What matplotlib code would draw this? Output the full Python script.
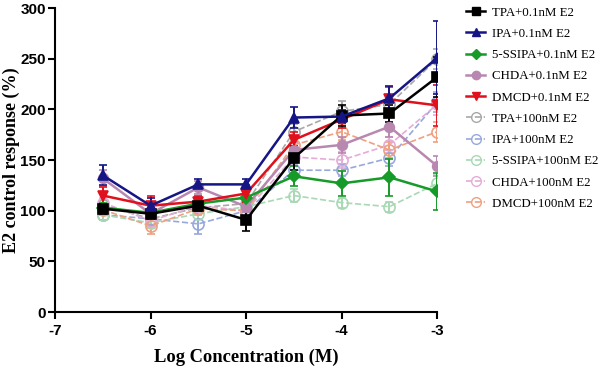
import matplotlib
matplotlib.use("Agg")
import matplotlib.pyplot as plt
from matplotlib.lines import Line2D

log_conc = [-6.5, -6.0, -5.5, -5.0, -4.5, -4.0, -3.5, -3.0]

labels = ["TPA+0.1nM E2", "IPA+0.1nM E2", "5-SSIPA+0.1nM E2", "CHDA+0.1nM E2",
          "DMCD+0.1nM E2", "TPA+100nM E2", "IPA+100nM E2", "5-SSIPA+100nM E2",
          "CHDA+100nM E2", "DMCD+100nM E2"]

tpa_01 = [102, 97, 105, 91, 152, 194, 196, 232]
ipa_01 = [135, 105, 126, 126, 192, 193, 211, 251]
sipa_01 = [103, 98, 107, 113, 134, 127, 133, 119]
chda_01 = [132, 97, 123, 104, 160, 165, 183, 144]
dmcd_01 = [115, 105, 109, 117, 170, 190, 210, 204]
tpa_100 = [106, 92, 103, 107, 178, 198, 205, 250]
ipa_100 = [96, 92, 87, 100, 140, 140, 152, 207]
sipa_100 = [96, 88, 97, 104, 115, 108, 104, 127]
chda_100 = [108, 90, 105, 100, 153, 150, 165, 205]
dmcd_100 = [101, 85, 102, 100, 165, 178, 160, 178]

tpa_01_err = [5, 5, 5, 11, 12, 10, 8, 20]
ipa_01_err = [10, 8, 5, 5, 10, 6, 12, 36]
sipa_01_err = [5, 5, 5, 5, 10, 12, 18, 18]
chda_01_err = [8, 5, 6, 5, 8, 8, 10, 10]
dmcd_01_err = [8, 10, 6, 8, 8, 8, 12, 20]
tpa_100_err = [5, 6, 5, 6, 8, 10, 8, 10]
ipa_100_err = [5, 6, 10, 6, 6, 6, 8, 10]
sipa_100_err = [5, 5, 5, 5, 6, 5, 5, 8]
chda_100_err = [5, 6, 5, 6, 8, 8, 8, 10]
dmcd_100_err = [5, 8, 6, 6, 8, 8, 8, 10]

series = [tpa_01, ipa_01, sipa_01, chda_01, dmcd_01,
          tpa_100, ipa_100, sipa_100, chda_100, dmcd_100]
errors = [tpa_01_err, ipa_01_err, sipa_01_err, chda_01_err, dmcd_01_err,
          tpa_100_err, ipa_100_err, sipa_100_err, chda_100_err, dmcd_100_err]

colors = ["#000000", "#151585", "#169a28", "#b888b0", "#e0101c",
          "#a8a8a8", "#98a8dc", "#a8d8b4", "#e4acd8", "#f0a080"]
markers = ["s", "^", "D", "o", "v", "o", "o", "o", "o", "o"]
msizes = [7, 7, 6, 7, 7, 8, 8, 8, 8, 8]

fig = plt.figure(figsize=(6.01, 3.71), dpi=100)
ax = fig.add_axes([0.0915, 0.159, 0.636, 0.819])

order = [5, 6, 7, 8, 9, 3, 2, 4, 0, 1]
for i in order:
    filled = i < 5
    ls = "-" if filled else "--"
    lw = 1.8 if filled else 1.2
    ax.errorbar(log_conc, series[i], yerr=errors[i], color=colors[i],
                marker=markers[i], markersize=msizes[i], linestyle=ls,
                linewidth=lw, capsize=3, elinewidth=1.4, capthick=1.4,
                markerfacecolor=colors[i] if filled else "none",
                markeredgecolor=colors[i], markeredgewidth=1.2,
                zorder=3 if filled else 2)

handles = []
for i in range(10):
    filled = i < 5
    handles.append(Line2D([], [], color=colors[i], marker=markers[i],
                          markersize=msizes[i] - 1 if filled else 7,
                          linestyle="-" if filled else "--",
                          linewidth=1.8 if filled else 1.2,
                          markerfacecolor=colors[i] if filled else "none",
                          markeredgecolor=colors[i]))

ax.set_xlim(-7, -3)
ax.set_ylim(0, 300)
ax.set_xticks([-7, -6, -5, -4, -3])
ax.set_xticklabels(["-7", "-6", "-5", "-4", "-3"])
ax.set_yticks([0, 50, 100, 150, 200, 250, 300])
for s in ["top", "right"]:
    ax.spines[s].set_visible(False)
for s in ["left", "bottom"]:
    ax.spines[s].set_linewidth(1.5)
ax.tick_params(width=1.5, length=5, labelsize=11)
ax.tick_params(axis="y", pad=1.5)
for t in ax.get_xticklabels() + ax.get_yticklabels():
    t.set_fontweight("bold")
    t.set_family("Liberation Sans")

ax.set_xlabel("Log Concentration (M)", fontsize=13.3, fontweight="bold",
              family="Liberation Serif")
ax.set_ylabel("E2 control response (%)", fontsize=13, fontweight="bold",
              family="Liberation Serif")
ax.xaxis.set_label_coords(0.5, -0.122)
ax.yaxis.set_label_coords(-0.092, 0.5)

ax.legend(handles, labels,
          loc="upper left", bbox_to_anchor=(1.075, 1.005), frameon=False,
          prop={"family": "Liberation Serif", "size": 9.25},
          labelspacing=0.72, handlelength=1.5, handletextpad=0.5,
          borderaxespad=0, borderpad=0)

fig.savefig("out.png", dpi=100)
